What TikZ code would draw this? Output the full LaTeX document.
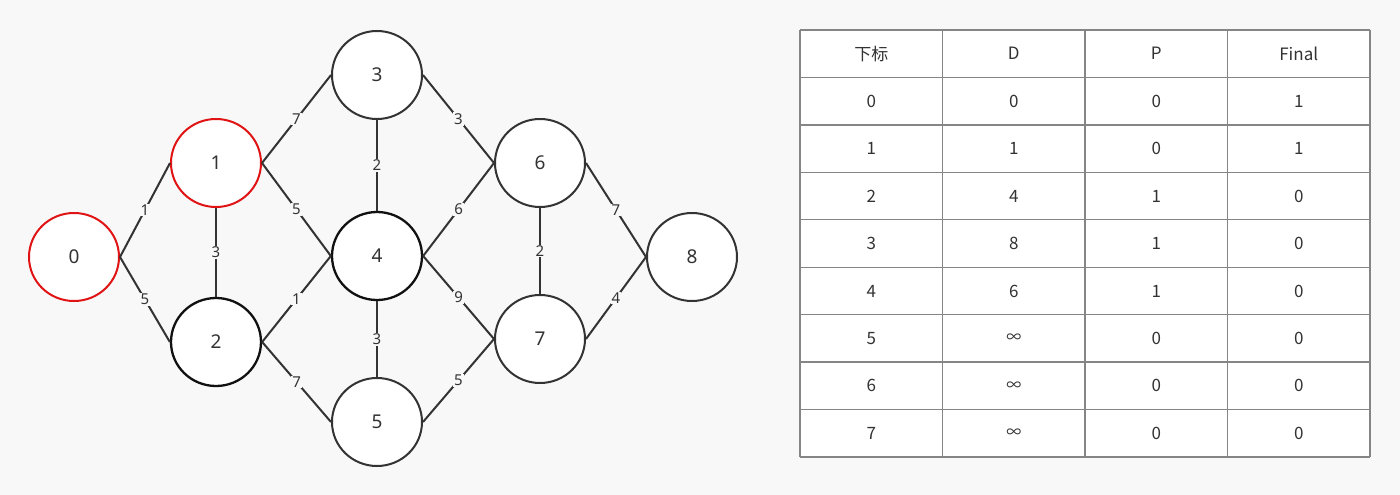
\documentclass[tikz,border=0pt]{standalone}
\usepackage{fontspec}
\setmainfont{Noto Sans}
\newfontfamily\cjk{Noto Sans CJK SC}
\usetikzlibrary{shapes.geometric}
\definecolor{bgc}{HTML}{F8F8F8}
\definecolor{linec}{HTML}{333333}
\definecolor{darkc}{HTML}{111111}
\definecolor{redc}{HTML}{E01414}
\definecolor{textc}{HTML}{333333}
\definecolor{gridc}{HTML}{858585}
\newcommand{\infsym}{{\cjk\fontsize{15}{18}\selectfont ∞}}
\begin{document}
\begin{tikzpicture}[x=1pt,y=-1pt,
  vtx/.style={draw=linec, line width=2pt, fill=white, ellipse, minimum width=90pt, minimum height=88pt, inner sep=0pt, font=\fontsize{19}{21}\selectfont, text=textc},
  redvtx/.style={vtx, draw=redc},
  boldvtx/.style={vtx, draw=darkc, line width=2.3pt},
  edge/.style={draw=linec, line width=2pt},
  elab/.style={fill=bgc, inner sep=1pt, font=\fontsize{15}{17}\selectfont, text=textc},
  tbl/.style={draw=gridc, line width=1.3pt},
  cellt/.style={font=\cjk\fontsize{17}{20}\selectfont, text=textc}
]
\fill[bgc] (0,0) rectangle (1400,495);
\useasboundingbox (0,0) rectangle (1400,495);

% vertices
\node[redvtx] (n0) at (74,257) {0};
\node[redvtx] (n1) at (216,163) {1};
\node[boldvtx] (n2) at (216,342) {2};
\node[vtx] (n3) at (377,75) {3};
\node[boldvtx] (n4) at (377,256) {4};
\node[vtx] (n5) at (377,422) {5};
\node[vtx] (n6) at (540,163) {6};
\node[vtx] (n7) at (540,339) {7};
\node[vtx] (n8) at (692,257) {8};

% edges
\draw[edge] (n0.east) -- node[elab]{1} (n1.west);
\draw[edge] (n0.east) -- node[elab]{5} (n2.west);
\draw[edge] (n1.south) -- node[elab]{3} (n2.north);
\draw[edge] (n1.east) -- node[elab]{7} (n3.west);
\draw[edge] (n1.east) -- node[elab]{5} (n4.west);
\draw[edge] (n2.east) -- node[elab]{1} (n4.west);
\draw[edge] (n2.east) -- node[elab]{7} (n5.west);
\draw[edge] (n3.south) -- node[elab]{2} (n4.north);
\draw[edge] (n4.south) -- node[elab]{3} (n5.north);
\draw[edge] (n3.east) -- node[elab]{3} (n6.west);
\draw[edge] (n4.east) -- node[elab]{6} (n6.west);
\draw[edge] (n4.east) -- node[elab]{9} (n7.west);
\draw[edge] (n5.east) -- node[elab]{5} (n7.west);
\draw[edge] (n6.south) -- node[elab]{2} (n7.north);
\draw[edge] (n6.east) -- node[elab]{7} (n8.west);
\draw[edge] (n7.east) -- node[elab]{4} (n8.west);

% table
\fill[white] (800,30) rectangle (1370,457);
\foreach \i in {0,...,9} {
  \draw[tbl] (800,{30+47.444*\i}) -- (1370,{30+47.444*\i});
}
\foreach \j in {0,...,4} {
  \draw[tbl] ({800+142.5*\j},30) -- ({800+142.5*\j},457);
}
\foreach \row [count=\r from 0] in {{下标,D,P,Final},{0,0,0,1},{1,1,0,1},{2,4,1,0},{3,8,1,0},{4,6,1,0},{5,\infsym,0,0},{6,\infsym,0,0},{7,\infsym,0,0}} {
  \foreach \cell [count=\c from 0] in \row {
    \node[cellt] (cell-\r-\c) at ({800+142.5*(\c+0.5)},{30+47.444*(\r+0.5)}) {\cell};
  }
}
\end{tikzpicture}
\end{document}
